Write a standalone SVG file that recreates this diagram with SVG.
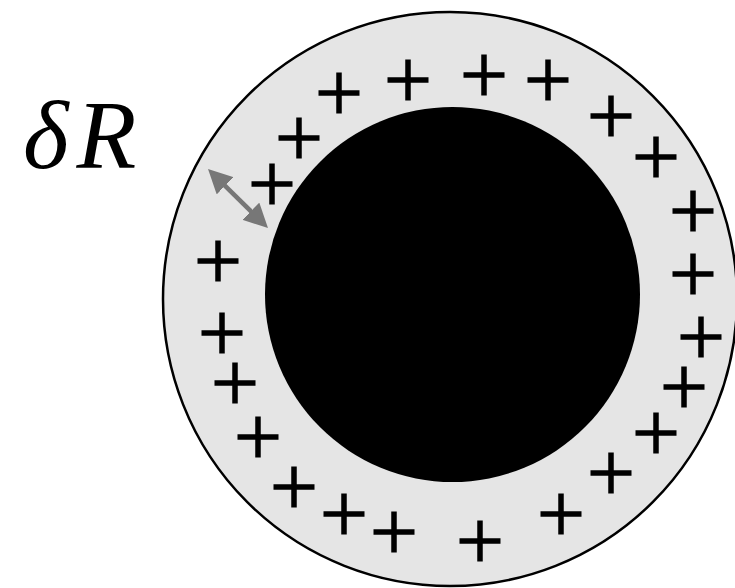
<svg xmlns="http://www.w3.org/2000/svg" width="735" height="588" viewBox="0 0 735 588">
<style>
.plus{stroke:#000;stroke-width:5.5;fill:none}
.lbl{font-family:"Liberation Serif","Times New Roman",serif;font-style:italic;font-size:98px;fill:#000}
</style>
<defs>
<path id="p" class="plus" d="M-20.5 0H20.5M0 -20.5V20.5"/>
<marker id="ah" viewBox="0 0 24 24" refX="10" refY="12" markerWidth="24" markerHeight="24" orient="auto-start-reverse" markerUnits="userSpaceOnUse">
<path d="M0 0L24 12L0 24z" fill="#777"/>
</marker>
</defs>
<rect width="735" height="588" fill="#fff"/>
<g id="shell"><circle cx="450" cy="299" r="287" fill="#e5e5e5" stroke="#000" stroke-width="2.5"/></g>
<g id="core"><circle cx="452.5" cy="294.5" r="187.5" fill="#000"/></g>
<g id="charges">
<use href="#p" x="339" y="93"/>
<use href="#p" x="299" y="138"/>
<use href="#p" x="272" y="184"/>
<use href="#p" x="218" y="261"/>
<use href="#p" x="408" y="80"/>
<use href="#p" x="484" y="75"/>
<use href="#p" x="548" y="80"/>
<use href="#p" x="611" y="116"/>
<use href="#p" x="656" y="157"/>
<use href="#p" x="693" y="211"/>
<use href="#p" x="693" y="274"/>
<use href="#p" x="701" y="337"/>
<use href="#p" x="684" y="387"/>
<use href="#p" x="656" y="433"/>
<use href="#p" x="611" y="473"/>
<use href="#p" x="561" y="514"/>
<use href="#p" x="480" y="541"/>
<use href="#p" x="394" y="532"/>
<use href="#p" x="222" y="333"/>
<use href="#p" x="235" y="383"/>
<use href="#p" x="258" y="437"/>
<use href="#p" x="294" y="487"/>
<use href="#p" x="344" y="514"/>
</g>
<g id="connectors">
<line x1="218" y1="178.8" x2="258" y2="218.2" stroke="#777" stroke-width="4.5" marker-start="url(#ah)" marker-end="url(#ah)"/>
</g>
<g id="label"><text class="lbl" x="23" y="168">δ<tspan dx="8">R</tspan></text></g>
</svg>
